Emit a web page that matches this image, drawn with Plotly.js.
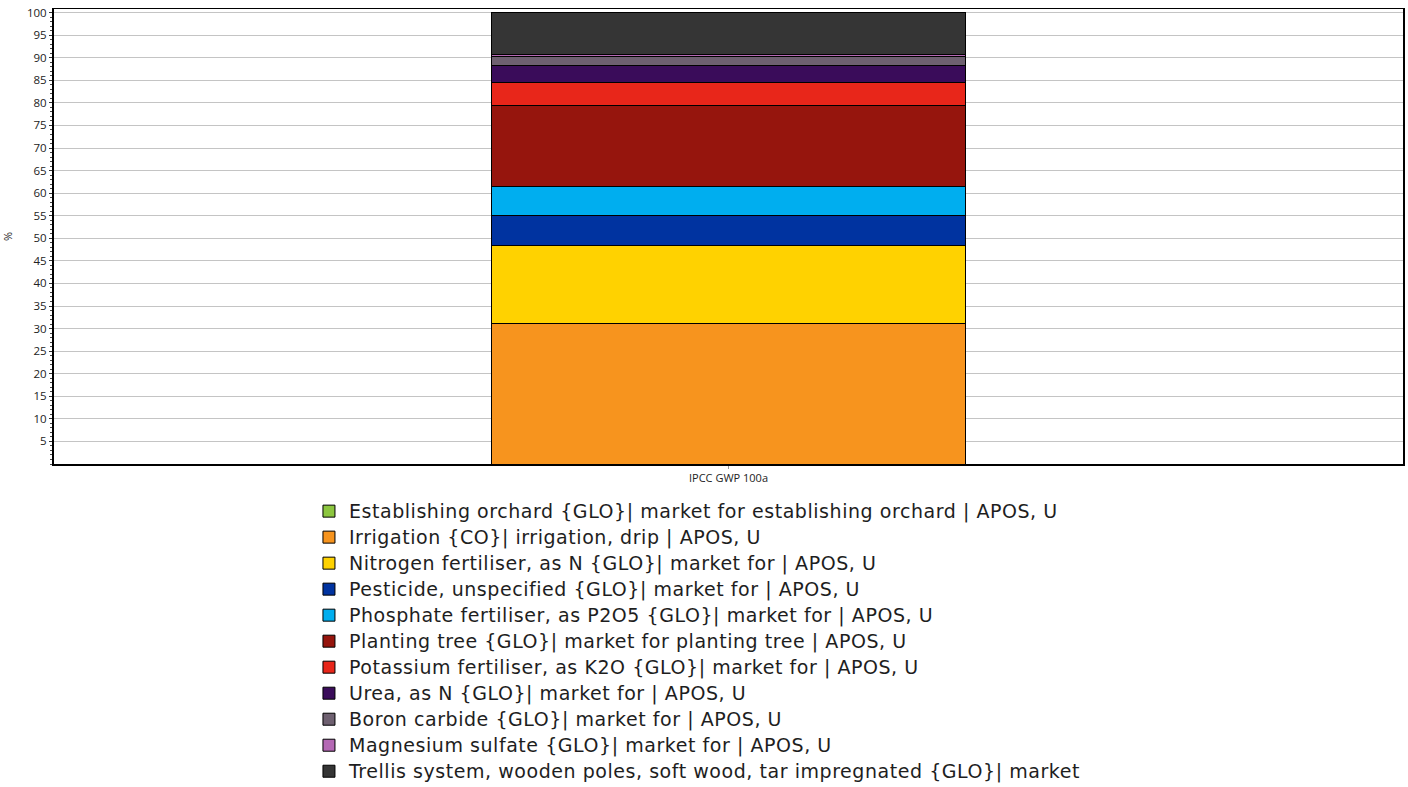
<!DOCTYPE html>
<html>
<head>
<meta charset="utf-8">
<script src="https://cdn.plot.ly/plotly-3.0.1.min.js"></script>
<style>html,body{margin:0;padding:0;background:#fff;}#chart{width:1408px;height:787px;}
.legendtext{font-size:19px !important;letter-spacing:0.55px;}</style>
</head>
<body>
<div id="chart"></div>
<script>
const categories = ["IPCC GWP 100a"];
const seriesNames = [
  "Establishing orchard {GLO}| market for establishing orchard | APOS, U",
  "Irrigation {CO}| irrigation, drip | APOS, U",
  "Nitrogen fertiliser, as N {GLO}| market for | APOS, U",
  "Pesticide, unspecified {GLO}| market for | APOS, U",
  "Phosphate fertiliser, as P2O5 {GLO}| market for | APOS, U",
  "Planting tree {GLO}| market for planting tree | APOS, U",
  "Potassium fertiliser, as K2O {GLO}| market for | APOS, U",
  "Urea, as N {GLO}| market for | APOS, U",
  "Boron carbide {GLO}| market for | APOS, U",
  "Magnesium sulfate {GLO}| market for | APOS, U",
  "Trellis system, wooden poles, soft wood, tar impregnated {GLO}| market"
];
const seriesValues = [0, 31.1, 17.2, 6.8, 6.4, 17.9, 5.1, 3.8, 1.9, 0.5, 9.3];
const seriesColors = ["#8cc63f", "#f7941e", "#ffd200", "#0033a0", "#00aeef", "#96150d", "#e8261a", "#3a0c5a", "#6e6070", "#b468b4", "#353535"];
const yTickVals = [5,10,15,20,25,30,35,40,45,50,55,60,65,70,75,80,85,90,95,100];

const traces = seriesNames.map((name, i) => ({
  type: "bar",
  name: name,
  x: categories,
  y: [seriesValues[i]],
  width: 0.351,
  marker: {color: seriesColors[i], line: {color: "#000", width: 1}},
  hoverinfo: "name+y"
}));

const layout = {
  width: 1408,
  height: 787,
  barmode: "stack",
  paper_bgcolor: "#fff",
  plot_bgcolor: "#fff",
  margin: {l: 54, r: 5, t: 9, b: 323, pad: 0, autoexpand: false},
  font: {family: "Open Sans, Noto Sans, sans-serif", color: "#222"},
  showlegend: true,
  legend: {
    orientation: "v",
    traceorder: "normal",
    x: 0.189, xanchor: "left",
    y: -0.064, yanchor: "top",
    font: {size: 17.7, color: "#1e1e1e", family: "DejaVu Sans, sans-serif"},
    bgcolor: "rgba(0,0,0,0)",
    itemclick: false
  },
  xaxis: {
    type: "category",
    range: [-0.5, 0.5],
    showline: true, linecolor: "#000", linewidth: 1.5, mirror: true,
    ticks: "outside", ticklen: 3, tickcolor: "#999",
    tickfont: {size: 11, color: "#222"},
    showgrid: false, zeroline: false
  },
  yaxis: {
    range: [0, 100.8],
    tickvals: yTickVals,
    ticktext: yTickVals.map(String),
    ticks: "outside", ticklen: 3, tickcolor: "#333",
    tickfont: {size: 11.5, color: "#222"},
    showline: true, linecolor: "#000", linewidth: 2, mirror: true,
    showgrid: true, gridcolor: "#c4c4c4", gridwidth: 1,
    zeroline: false,
    minor: {dtick: 1, ticks: "outside", ticklen: 2, tickcolor: "#444", showgrid: false},
    title: {text: "%", font: {size: 11, color: "#222"}, standoff: 16}
  }
};

Plotly.newPlot("chart", traces, layout, {displayModeBar: false, staticPlot: true});
</script>
</body>
</html>
